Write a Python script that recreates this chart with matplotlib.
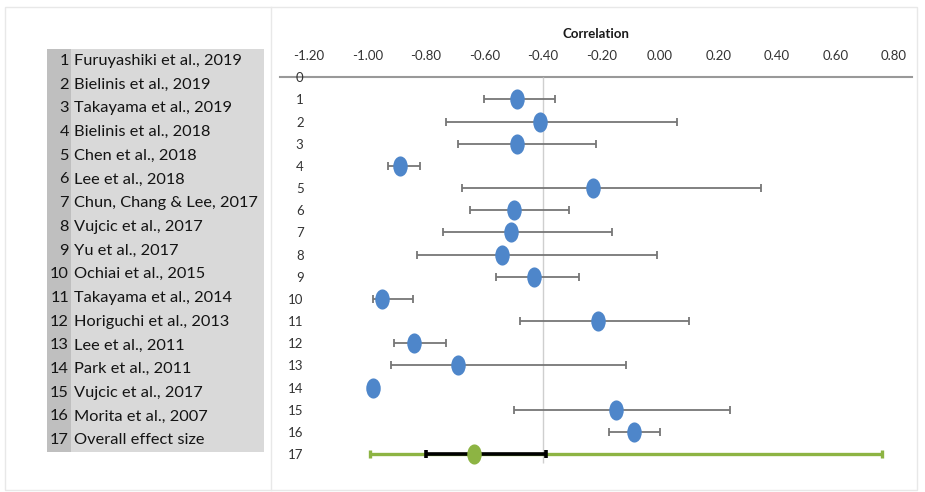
import matplotlib

matplotlib.use("Agg")
import matplotlib.pyplot as plt
import numpy as np
from matplotlib.markers import MarkerStyle
from matplotlib.patches import Rectangle
from matplotlib.path import Path
from matplotlib.transforms import Affine2D

plt.rcParams["font.family"] = ["Lato", "DejaVu Sans"]

studies = [
    "Furuyashiki et al., 2019",
    "Bielinis et al., 2019",
    "Takayama et al., 2019",
    "Bielinis et al., 2018",
    "Chen et al., 2018",
    "Lee et al., 2018",
    "Chun, Chang & Lee, 2017",
    "Vujcic et al., 2017",
    "Yu et al., 2017",
    "Ochiai et al., 2015",
    "Takayama et al., 2014",
    "Horiguchi et al., 2013",
    "Lee et al., 2011",
    "Park et al., 2011",
    "Vujcic et al., 2017",
    "Morita et al., 2007",
    "Overall effect size",
]

# study correlations and 95% CI (rows 1-16)
effect = [-0.49, -0.41, -0.49, -0.89, -0.23, -0.50, -0.51, -0.54,
          -0.43, -0.95, -0.21, -0.84, -0.69, -0.98, -0.15, -0.09]
lower = [-0.60, -0.73, -0.69, -0.93, -0.675, -0.65, -0.74, -0.83,
         -0.56, -0.98, -0.48, -0.91, -0.92, -0.98, -0.50, -0.175]
upper = [-0.36, 0.06, -0.22, -0.82, 0.345, -0.31, -0.165, -0.01,
         -0.275, -0.845, 0.10, -0.73, -0.115, -0.98, 0.24, 0.00]

# overall effect (row 17)
overall = -0.635
overall_ci = [-0.80, -0.39]
overall_pi = [-0.99, 0.76]
ref_line = -0.40

xticks = [-1.2, -1.0, -0.8, -0.6, -0.4, -0.2, 0.0, 0.2, 0.4, 0.6, 0.8]
xtick_labels = ["-1.20", "-1.00", "-0.80", "-0.60", "-0.40", "-0.20",
                "0.00", "0.20", "0.40", "0.60", "0.80"]

BLUE = "#4e86ca"
GREEN = "#8db443"
GREY = "#767676"

W, H = 925, 492
fig = plt.figure(figsize=(W / 100, H / 100), dpi=100)


def fx(px):
    return px / W


def fy(py):
    return 1 - py / H


# outer frame and divider
fig.patches.append(Rectangle((fx(5), fy(490)), fx(912), (483) / H, transform=fig.transFigure,
                             fill=False, edgecolor="#e8e8e8", linewidth=1))
fig.add_artist(plt.Line2D([fx(271), fx(271)], [fy(7), fy(490)], color="#e8e8e8", linewidth=1))

# left study list panel
fig.patches.append(Rectangle((fx(47), fy(452)), fx(217), (452 - 49) / H, transform=fig.transFigure,
                             facecolor="#d9d9d9", edgecolor="none"))
fig.patches.append(Rectangle((fx(47), fy(452)), fx(24), (452 - 49) / H, transform=fig.transFigure,
                             facecolor="#bfbfbf", edgecolor="none"))
for i, name in enumerate(studies):
    y = 61 + i * 23.7
    fig.text(fx(69), fy(y), str(i + 1), ha="right", va="center", fontsize=11.8, color="#141414")
    fig.text(fx(74), fy(y), name, ha="left", va="center", fontsize=11.8, color="#141414")

# forest plot
ax = fig.add_axes([fx(280), fy(471.7), fx(912 - 280), (471.7 - 77.3) / H])
ax.set_xlim(-1.299, 0.862)
ax.set_ylim(17.8, 0)

rows = np.arange(1, 17)
eff = np.array(effect)
lo = np.array(lower)
hi = np.array(upper)

ax.vlines(ref_line, 0, 17.4, color="#cfcfcf", linewidth=1, zorder=1)

ax.errorbar(eff, rows, xerr=[eff - lo, hi - eff], fmt="none", ecolor=GREY,
            elinewidth=1.3, capsize=3.2, capthick=1.3, zorder=2)

ellipse = MarkerStyle(Path.unit_circle().transformed(Affine2D().scale(0.72, 1.0)))
ax.plot(eff, rows, linestyle="none", marker=ellipse, markersize=14.5,
        color=BLUE, markeredgewidth=0, zorder=3)

ax.errorbar([overall], [17], xerr=[[overall - overall_pi[0]], [overall_pi[1] - overall]],
            fmt="none", ecolor=GREEN, elinewidth=2.4, capsize=2.6, capthick=2.4, zorder=2)
ax.errorbar([overall], [17], xerr=[[overall - overall_ci[0]], [overall_ci[1] - overall]],
            fmt="none", ecolor="black", elinewidth=2.6, capsize=2.8, capthick=2.6, zorder=3)
ax.plot([overall], [17], linestyle="none", marker=ellipse, markersize=14.5,
        color=GREEN, markeredgewidth=0, zorder=4)

ax.xaxis.tick_top()
ax.set_xticks(xticks)
ax.set_xticklabels(xtick_labels)
ax.tick_params(axis="x", length=0, pad=11, labelsize=9.5, labelcolor="#333333")
ax.set_yticks(range(0, 18))
ax.tick_params(axis="y", length=0, pad=-17, labelsize=9.5, labelcolor="#333333")
ax.set_title("Correlation", fontsize=9.5, fontweight="bold", color="#1a1a1a", pad=28)

for side in ["left", "right", "bottom"]:
    ax.spines[side].set_visible(False)
ax.spines["top"].set_color("#999999")
ax.spines["top"].set_linewidth(1.5)
ax.spines["top"].set_zorder(0)

fig.savefig("out.png", dpi=100)
